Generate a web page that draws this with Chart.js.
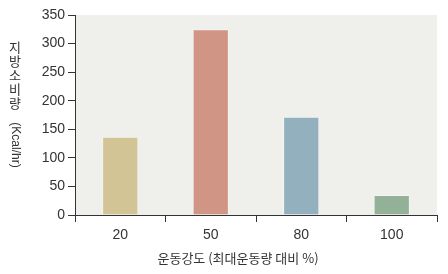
<!DOCTYPE html>
<html>
<head>
<meta charset="utf-8">
<script src="https://cdn.jsdelivr.net/npm/chart.js@4"></script>
<style>
html,body{margin:0;padding:0;background:#fff;}
#wrap{width:448px;height:274px;position:relative;}
</style>
</head>
<body>
<div id="wrap"><canvas id="c" width="448" height="274"></canvas></div>
<script>
const categories = ["20", "50", "80", "100"];
const values = [137, 325, 172, 35];
const barColors = ["#d3c496", "#d09585", "#92b0bd", "#92b196"];
const yTicks = [0, 50, 100, 150, 200, 250, 300, 350];
const xTitle = "운동강도 (최대운동량 대비 %)";
const yTitleKo = "지방소비량";
const yTitleUnit = "(Kcal/hr)";

const bgPlugin = {
  id: 'bg',
  beforeDraw(chart) {
    const {ctx, chartArea: a} = chart;
    ctx.save();
    ctx.fillStyle = '#efefeb';
    ctx.fillRect(a.left, a.top, a.right - a.left, a.bottom - a.top);
    ctx.restore();
  },
  afterDraw(chart) {
    const {ctx} = chart;
    ctx.save();
    ctx.fillStyle = '#333';
    ctx.font = '13px "Noto Sans CJK KR", sans-serif';
    ctx.textAlign = 'center';
    ctx.textBaseline = 'middle';
    ctx.fillText(xTitle, 238, 258);
    // vertical y title: stacked Korean chars
    const chars = Array.from(yTitleKo);
    chars.forEach((ch, i) => ctx.fillText(ch, 15, 47 + i * 14));
    ctx.translate(15, 145);
    ctx.rotate(Math.PI / 2);
    ctx.font = '12px "Liberation Sans", Arial, sans-serif';
    ctx.fillText(yTitleUnit, 0, 0);
    ctx.restore();
  }
};

new Chart(document.getElementById('c'), {
  type: 'bar',
  data: {
    labels: categories,
    datasets: [{
      data: values,
      backgroundColor: barColors,
      borderColor: 'rgba(255,255,255,0.35)',
      borderWidth: 1,
      barPercentage: 0.4,
      categoryPercentage: 1.0
    }]
  },
  options: {
    responsive: false,
    animation: false,
    devicePixelRatio: 1,
    layout: {padding: {top: 15, right: 11, left: 0, bottom: 0}},
    plugins: {legend: {display: false}, tooltip: {enabled: false}},
    scales: {
      x: {
        offset: true,
        grid: {offset: true, drawOnChartArea: false, drawTicks: true, tickLength: 7, color: '#333', lineWidth: 1},
        border: {display: true, color: '#333', width: 1},
        ticks: {color: '#333', font: {family: '"Liberation Sans", Arial, sans-serif', size: 14}, padding: 5},
        afterFit(scale) { scale.height = 59; }
      },
      y: {
        min: 0, max: 350,
        afterBuildTicks(scale) { scale.ticks = yTicks.map(v => ({value: v})); },
        grid: {drawOnChartArea: false, drawTicks: true, tickLength: 7, color: '#333', lineWidth: 1},
        border: {display: true, color: '#333', width: 1},
        ticks: {color: '#333', font: {family: '"Liberation Sans", Arial, sans-serif', size: 14}, padding: 3},
        afterFit(scale) { scale.width = 75; }
      }
    }
  },
  plugins: [bgPlugin]
});
</script>
</body>
</html>
